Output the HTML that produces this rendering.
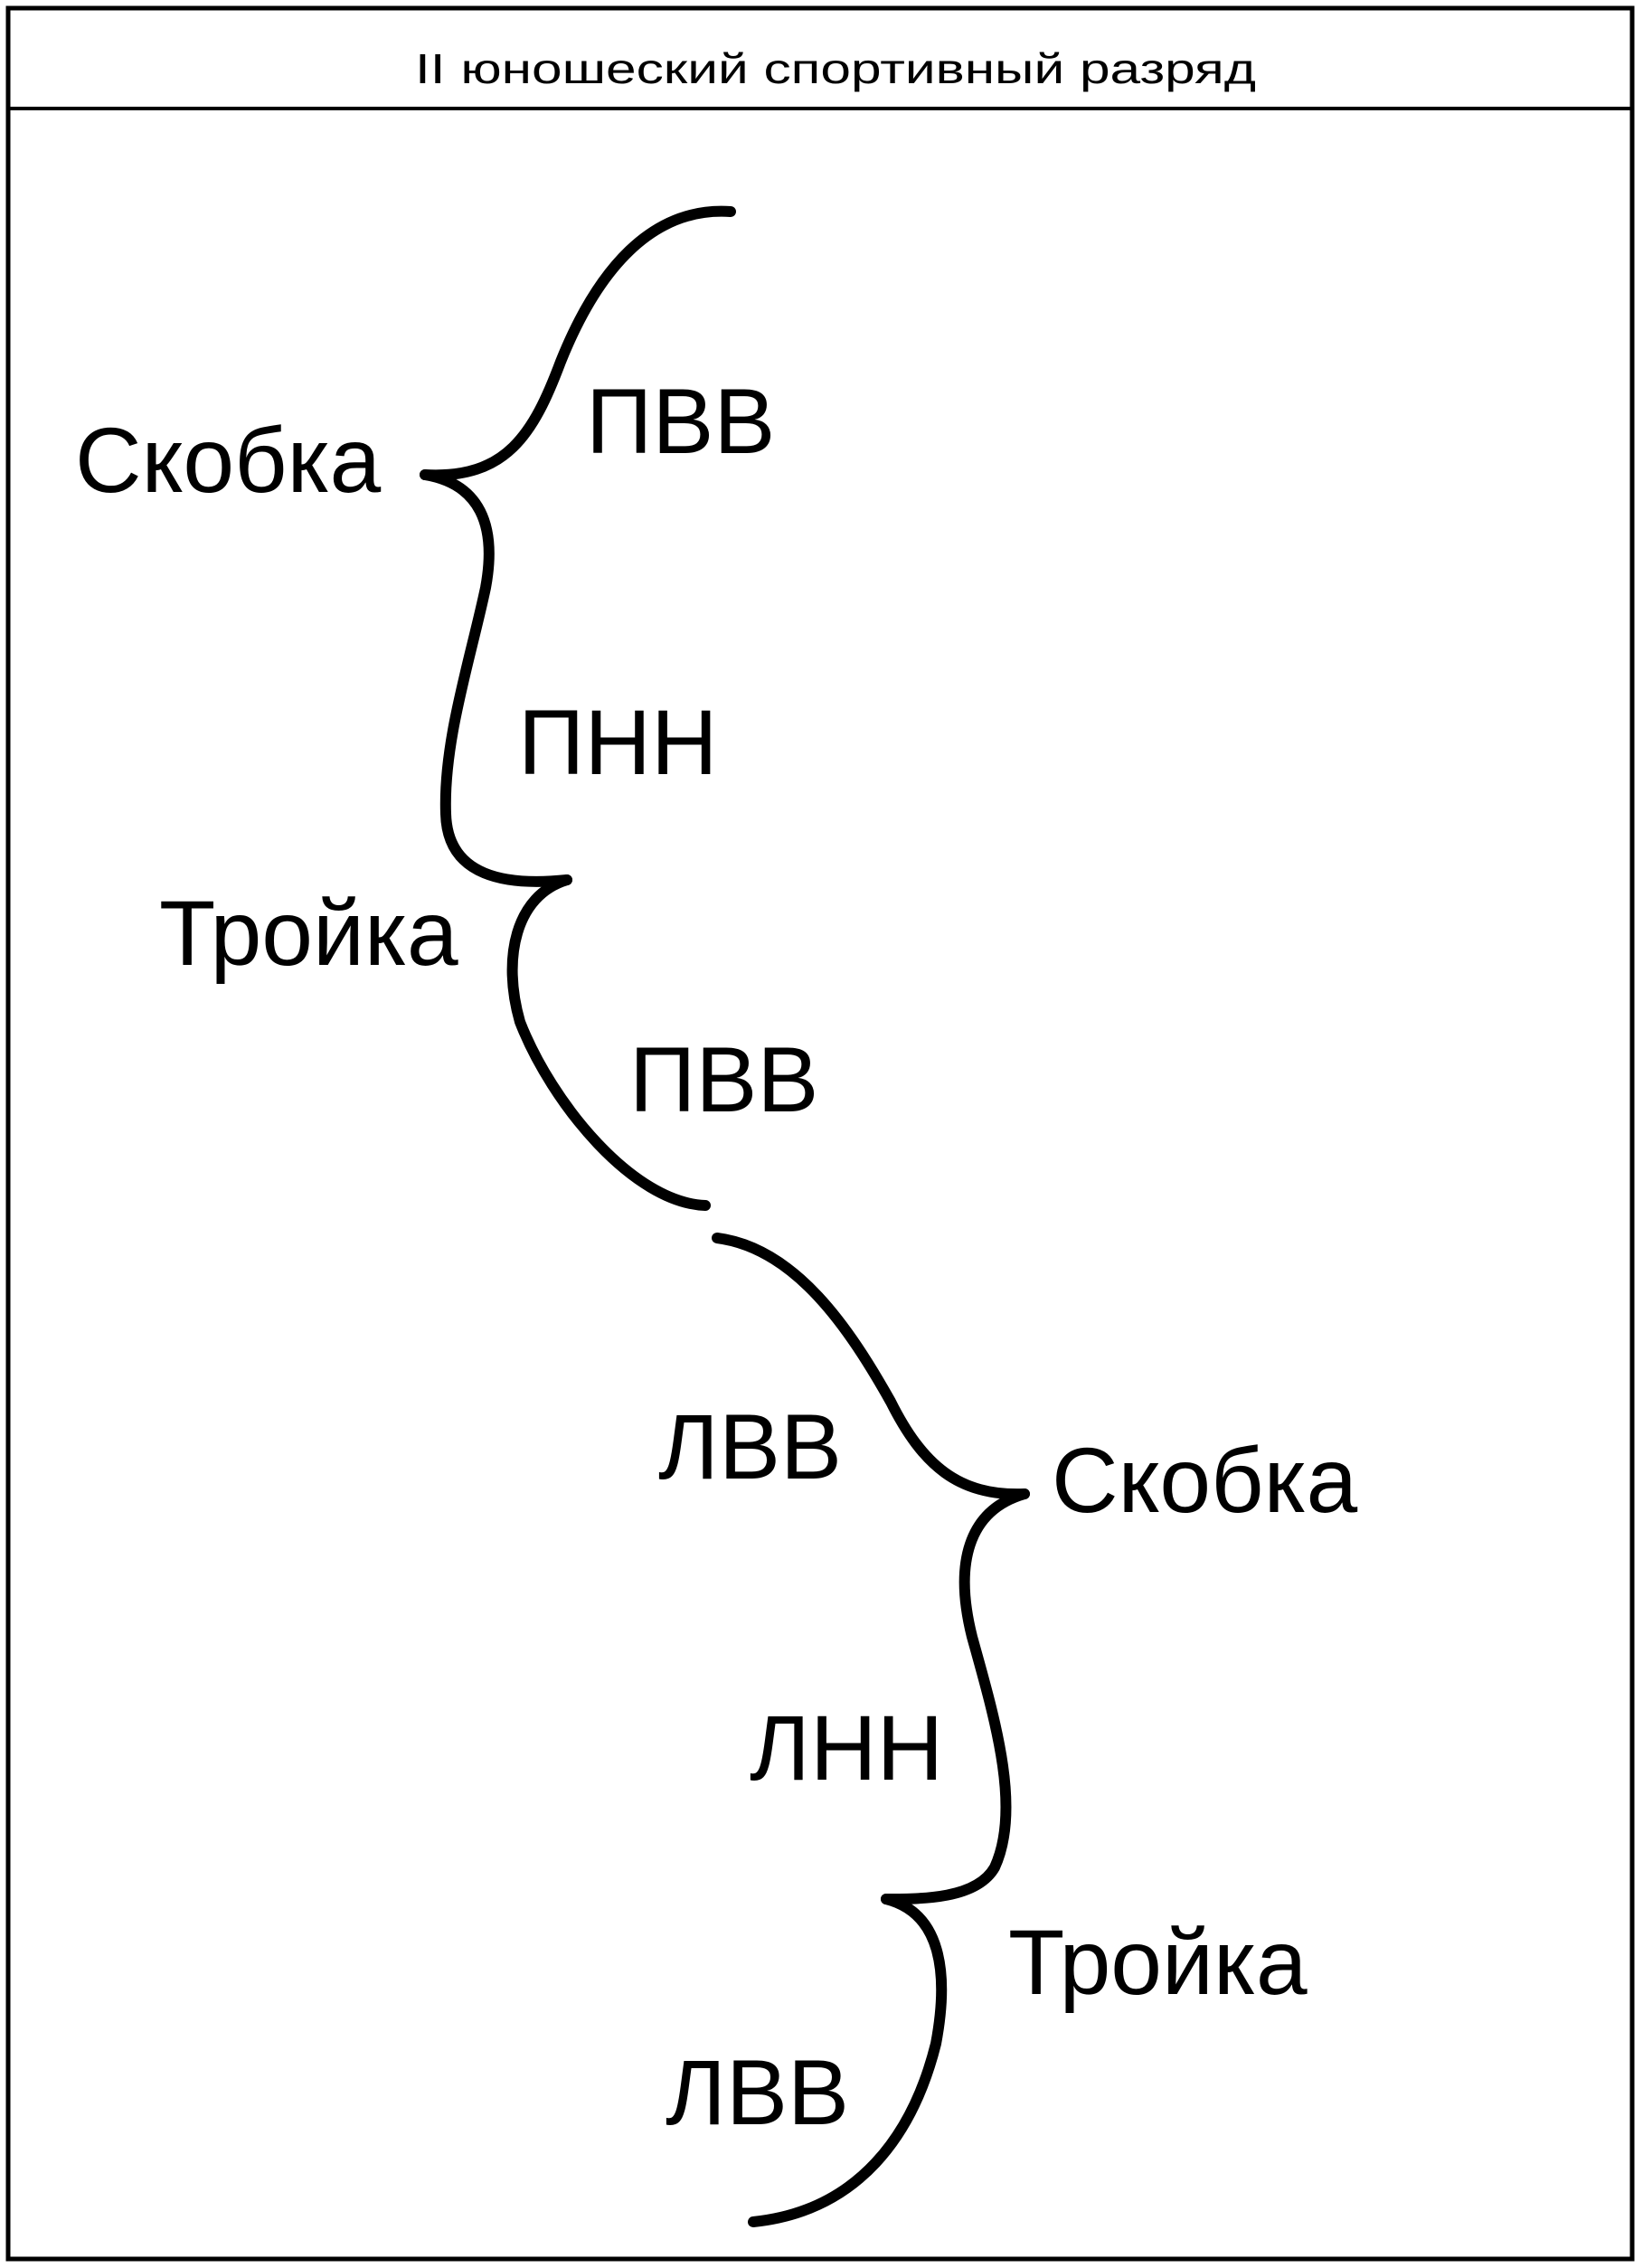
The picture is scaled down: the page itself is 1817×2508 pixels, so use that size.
<!DOCTYPE html>
<html><head><meta charset="utf-8"><style>
html,body{margin:0;padding:0;background:#fff;}
body{width:1817px;height:2508px;position:relative;overflow:hidden;}
svg{position:absolute;left:0;top:0;}
text{font-family:"Liberation Sans",sans-serif;fill:#000;}
</style></head><body>
<svg width="1817" height="2508" viewBox="0 0 1817 2508">
<rect x="9" y="9" width="1796" height="2489" fill="none" stroke="#000" stroke-width="5"/>
<line x1="9" y1="120" x2="1805" y2="120" stroke="#000" stroke-width="4"/>
<text x="924" y="92" font-size="46" text-anchor="middle" textLength="930" lengthAdjust="spacingAndGlyphs">II юношеский спортивный разряд</text>
<g fill="none" stroke="#000" stroke-width="12" stroke-linecap="round" stroke-linejoin="round">
<path d="M808,234 C720,228 660,300 620,400 C590,480 560,530 470,525"/>
<path d="M470,525 C530,535 550,580 537,650 C520,730 490,820 493,900 C495,970 560,980 627,973"/>
<path d="M627,973 C570,990 555,1060 575,1130 C610,1220 700,1330 780,1333"/>
<path d="M793,1369 C880,1380 940,1470 985,1550 C1020,1620 1060,1655 1133,1652"/>
<path d="M1133,1652 C1070,1670 1055,1730 1075,1810 C1100,1900 1130,2000 1100,2065 C1080,2100 1020,2100 980,2100"/>
<path d="M980,2100 C1040,2115 1050,2180 1035,2260 C1010,2360 950,2445 833,2457"/>
</g>
<g font-size="102">
<text x="83" y="544">Скобка</text>
<text x="648" y="501">ПВВ</text>
<text x="573" y="856">ПНН</text>
<text x="176" y="1067">Тройка</text>
<text x="696" y="1229">ПВВ</text>
<text x="728" y="1635">ЛВВ</text>
<text x="1163" y="1672">Скобка</text>
<text x="829" y="1968">ЛНН</text>
<text x="1115" y="2205">Тройка</text>
<text x="736" y="2349">ЛВВ</text>
</g>
</svg>
</body></html>
